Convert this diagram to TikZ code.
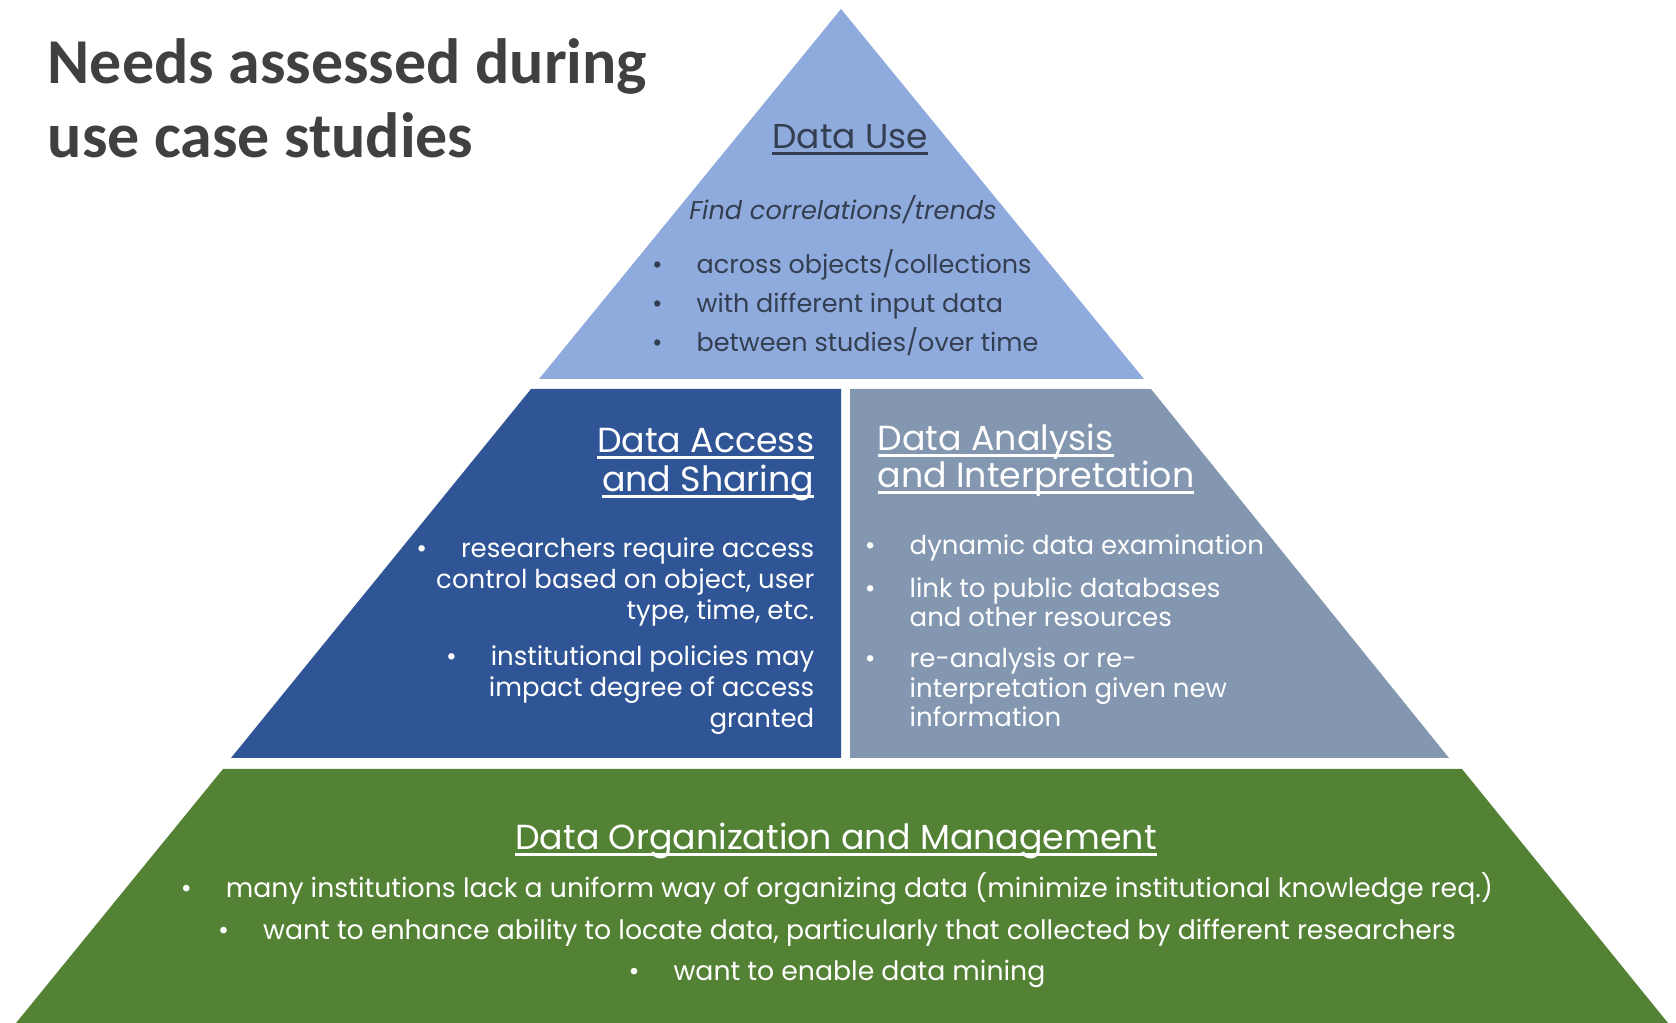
\documentclass[tikz,border=0pt]{standalone}
\usepackage{fontspec}
\setmainfont{Poppins}
\newfontfamily\titlefont{Carlito}
\usepackage{xcolor}
\usetikzlibrary{positioning}

\definecolor{useblue}{HTML}{8FAADC}
\definecolor{accessblue}{HTML}{2F5597}
\definecolor{analysisgray}{HTML}{8497B0}
\definecolor{orggreen}{HTML}{548235}
\definecolor{usetext}{HTML}{333F50}
\definecolor{titlegray}{HTML}{404040}

\newlength{\hdlen}
\newcommand{\hdul}[1]{\settowidth{\hdlen}{#1}\rlap{\rule[-0.65mm]{\hdlen}{0.3mm}}#1}
\newcommand{\hangbul}{\makebox[0pt][r]{\textbullet\hspace{3.4mm}}}
\newcommand{\inbul}{\textbullet\hspace{3.4mm}}

\begin{document}
\begin{tikzpicture}[every node/.style={inner sep=0pt},
  head/.style={font=\fontsize{9.9}{#1}\selectfont},
  body/.style={font=\fontsize{7.4}{#1}\selectfont}]
\useasboundingbox (0,0) rectangle (16.76,-10.23);

\fill[useblue] (8.41,-0.09) -- (5.39,-3.79) -- (11.44,-3.79) -- cycle;
\fill[accessblue] (5.31,-3.89) -- (8.41,-3.89) -- (8.41,-7.58) -- (2.31,-7.58) -- cycle;
\fill[analysisgray] (8.50,-3.89) -- (11.51,-3.89) -- (14.49,-7.58) -- (8.50,-7.58) -- cycle;
\fill[orggreen] (2.23,-7.69) -- (14.62,-7.69) -- (16.68,-10.23) -- (0.16,-10.23) -- cycle;

\node (title) [anchor=base west, align=left, text=titlegray, font=\titlefont\bfseries\fontsize{18.2}{21.3}\selectfont] at (0.47,-1.58) {Needs assessed during\\use case studies};

\node (use) [anchor=base, font=\fontsize{9.8}{11}\selectfont, text=usetext] at (8.50,-1.49) {\hdul{Data Use}};
\node (trends) [anchor=base, font=\fontsize{7.3}{9}\selectfont\itshape, text=usetext] at (8.43,-2.20) {Find correlations/trends};
\node (uselist) [anchor=base west, align=left, font=\fontsize{7.25}{11.2}\selectfont, text=usetext] at (6.96,-3.52) {\hangbul across objects/collections\\\hangbul with different input data\\\hangbul between studies/over time};

\node (access) [anchor=base east, align=right, head=11.3, text=white] at (8.15,-4.92) {\hdul{Data Access}\\\hdul{and Sharing}};
\node (access1) [anchor=base east, align=right, body=8.95, text=white] at (8.15,-6.20) {\inbul researchers require access\\control based on object, user\\type, time, etc.};
\node (access2) [anchor=base east, align=right, body=8.95, text=white] at (8.15,-7.28) {\inbul institutional policies may\\impact degree of access\\granted};

\node (analysis) [anchor=base west, align=left, head=10.8, text=white] at (8.77,-4.88) {\hdul{Data Analysis}\\\hdul{and Interpretation}};
\node (analysis1) [anchor=base west, align=left, body=8.5, text=white] at (9.09,-5.55) {\hangbul dynamic data examination};
\node (analysis2) [anchor=base west, align=left, body=8.5, text=white] at (9.09,-6.27) {\hangbul link to public databases\\and other resources};
\node (analysis3) [anchor=base west, align=left, body=8.5, text=white] at (9.09,-7.27) {\hangbul re-analysis or re-\\interpretation given new\\information};

\node (org) [anchor=base, head=11, text=white] at (8.36,-8.50) {\hdul{Data Organization and Management}};
\node (orglist) [anchor=base, align=center, font=\fontsize{7.6}{11.9}\selectfont, text=white] at (8.37,-9.81) {\inbul many institutions lack a uniform way of organizing data (minimize institutional knowledge req.)\\\inbul want to enhance ability to locate data, particularly that collected by different researchers\\\inbul want to enable data mining};
\end{tikzpicture}
\end{document}
